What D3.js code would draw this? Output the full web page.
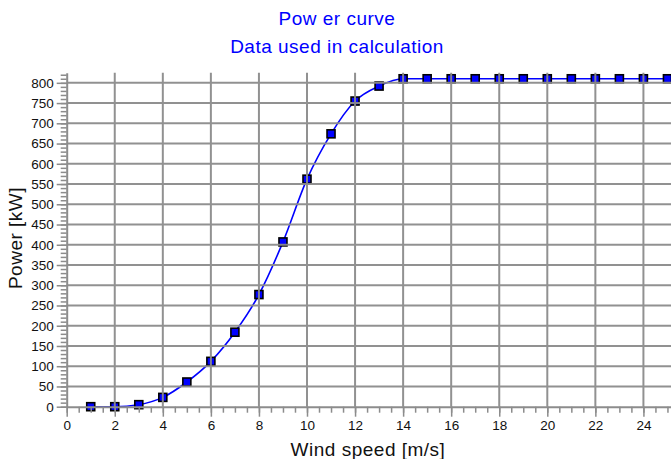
<!DOCTYPE html>
<html>
<head>
<meta charset="utf-8">
<script src="https://cdn.jsdelivr.net/npm/d3@7"></script>
<style>
  html, body { margin: 0; padding: 0; background: #fff; }
  svg { display: block; font-family: "Liberation Sans", Arial, sans-serif; }
</style>
</head>
<body>
<svg id="chart" width="671" height="459"></svg>
<script>
// ============ Data ============
const windSpeed = [1, 2, 3, 4, 5, 6, 7, 8, 9, 10, 11, 12, 13, 14, 15, 16, 17, 18, 19, 20, 21, 22, 23, 24, 25];
const power = [0, 0, 5, 23, 61, 112, 184, 277, 407, 562, 674, 755, 792, 810, 810, 810, 810, 810, 810, 810, 810, 810, 810, 810, 810];
const titleLines = ["Pow er curve", "Data used in calculation"];
const xLabel = "Wind speed [m/s]";
const yLabel = "Power [kW]";
const xMajorTicks = d3.range(0, 25, 2);      // 0..24, labelled + gridlines
const xMinorTicks = d3.range(0, 25.6, 0.5);
const yMajorTicks = d3.range(0, 801, 50);    // 0..800
const yMinorTicks = d3.range(0, 821, 10);

// ============ Layout ============
const LEFT = 66.7, BOTTOM = 406.7, TOP = 72.7;
const PX_PER_MS = 24.03;
const GRID = "#8c8c8c";
const BLUE = "#0000ff";

const svg = d3.select("#chart");

const x = d3.scaleLinear().domain([0, 25.5]).range([LEFT, LEFT + 25.5 * PX_PER_MS]);
const y = d3.scaleLinear().domain([0, 825]).range([BOTTOM, TOP]);

// ---- titles ----
svg.selectAll("text.title")
  .data(titleLines)
  .enter().append("text")
  .attr("class", "title")
  .attr("x", 337)
  .attr("y", (d, i) => 25 + i * 28)
  .attr("text-anchor", "middle")
  .attr("fill", BLUE)
  .attr("font-size", 19)
  .attr("letter-spacing", 0.5)
  .text(d => d);

// ---- series ----
const line = d3.line()
  .x((d, i) => x(windSpeed[i]))
  .y(d => y(d))
  .curve(d3.curveMonotoneX);

svg.append("path")
  .datum(power)
  .attr("d", line)
  .attr("fill", "none")
  .attr("stroke", BLUE)
  .attr("stroke-width", 1.6);

const MK = 8;
svg.append("g").selectAll("rect")
  .data(power)
  .enter().append("rect")
  .attr("x", (d, i) => x(windSpeed[i]) - MK / 2)
  .attr("y", d => y(d) - MK / 2)
  .attr("width", MK)
  .attr("height", MK)
  .attr("fill", BLUE)
  .attr("stroke", "#000")
  .attr("stroke-width", 1.6);

// ---- grid (drawn over the markers, as in the original) ----
const grid = svg.append("g").attr("stroke", GRID).attr("stroke-width", 2).attr("opacity", 0.95);
grid.selectAll("line.h")
  .data(yMajorTicks.filter(v => v > 0))
  .enter().append("line")
  .attr("x1", LEFT).attr("x2", x.range()[1])
  .attr("y1", d => y(d)).attr("y2", d => y(d));
grid.selectAll("line.v")
  .data(xMajorTicks.filter(v => v > 0))
  .enter().append("line")
  .attr("y1", TOP).attr("y2", BOTTOM)
  .attr("x1", d => x(d)).attr("x2", d => x(d));

// ---- y axis ----
const yAxis = svg.append("g").attr("transform", `translate(${LEFT},0)`);
yAxis.call(d3.axisLeft(y).tickValues(yMinorTicks).tickSize(6).tickFormat(""));
yAxis.call(g => g.selectAll(".tick line").attr("stroke", GRID).attr("stroke-width", 1.5));
yAxis.call(g => g.select(".domain").remove());

const yAxisMajor = svg.append("g").attr("transform", `translate(${LEFT},0)`);
yAxisMajor.call(d3.axisLeft(y).tickValues(yMajorTicks).tickSize(10).tickPadding(3).tickSizeOuter(0));
yAxisMajor.select(".domain").attr("stroke", GRID).attr("stroke-width", 2);
yAxisMajor.selectAll(".tick line").attr("stroke", GRID).attr("stroke-width", 1.5);
yAxisMajor.selectAll(".tick text")
  .attr("font-family", "'Liberation Sans', Arial, sans-serif")
  .attr("font-size", 13.5)
  .attr("fill", "#111");

// ---- x axis ----
const xAxis = svg.append("g").attr("transform", `translate(0,${BOTTOM})`);
xAxis.call(d3.axisBottom(x).tickValues(xMinorTicks).tickSize(6).tickFormat(""));
xAxis.call(g => g.selectAll(".tick line").attr("stroke", GRID).attr("stroke-width", 1.5));
xAxis.call(g => g.select(".domain").remove());

const xAxisMajor = svg.append("g").attr("transform", `translate(0,${BOTTOM})`);
xAxisMajor.call(d3.axisBottom(x).tickValues(xMajorTicks).tickSize(10).tickPadding(4).tickSizeOuter(0));
xAxisMajor.select(".domain").attr("stroke", GRID).attr("stroke-width", 2);
xAxisMajor.selectAll(".tick line").attr("stroke", GRID).attr("stroke-width", 1.5);
xAxisMajor.selectAll(".tick text")
  .attr("font-family", "'Liberation Sans', Arial, sans-serif")
  .attr("font-size", 13.5)
  .attr("fill", "#111");

// ---- axis titles ----
svg.append("text")
  .attr("x", 368)
  .attr("y", 456)
  .attr("text-anchor", "middle")
  .attr("font-size", 19)
  .attr("letter-spacing", 0.5)
  .attr("fill", "#111")
  .text(xLabel);

svg.append("text")
  .attr("transform", "translate(22,238) rotate(-90)")
  .attr("text-anchor", "middle")
  .attr("font-size", 19)
  .attr("letter-spacing", 0.5)
  .attr("fill", "#111")
  .text(yLabel);
</script>
</body>
</html>
